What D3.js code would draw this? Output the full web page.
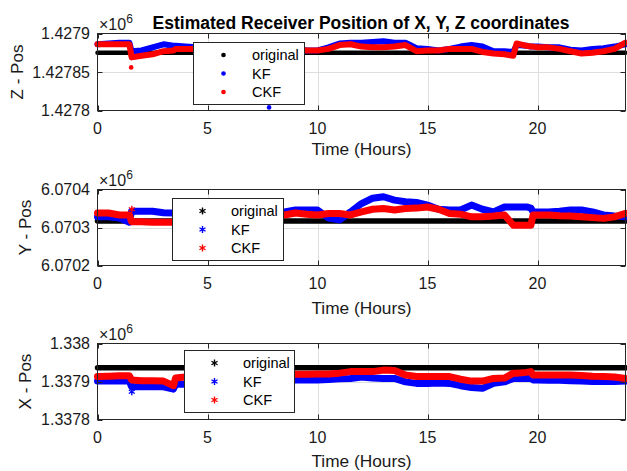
<!DOCTYPE html>
<html>
<head>
<meta charset="utf-8">
<script src="https://cdn.jsdelivr.net/npm/d3@7"></script>
<style>
  body { margin: 0; background: #fff; }
  svg { font-family: "Liberation Sans", Arial, Helvetica, sans-serif; }
</style>
</head>
<body>
<div id="chart"></div>
<script>
// sample times (hours) shared by the KF / CKF estimates
const hours = [0, 0.5, 1, 1.45, 1.55, 2, 2.5, 3, 3.45, 3.55, 4, 4.5, 5, 5.5, 6, 6.5, 7, 7.5, 8, 8.5,
  9, 9.5, 10, 10.5, 11, 11.5, 12, 12.5, 13, 13.5, 14, 14.5, 15, 15.5, 16, 16.5, 17, 17.5, 18, 18.5,
  18.9, 19.05, 19.5, 19.7, 19.8, 20, 20.5, 21, 21.5, 22, 22.5, 23, 23.5, 24];
// the original (true) position is fixed over the day
const originalHours = [0, 24];

// Z coordinate
const zOriginal = [1427875, 1427875];
const zKF = [1427886, 1427887, 1427888, 1427888, 1427877, 1427878, 1427882, 1427886, 1427884, 1427884,
  1427883, 1427882, 1427882, 1427882, 1427882, 1427882, 1427882, 1427882, 1427881, 1427880,
  1427880, 1427878, 1427878, 1427882, 1427887, 1427888, 1427888, 1427889, 1427890, 1427888,
  1427888, 1427881, 1427880, 1427878, 1427880, 1427883, 1427885, 1427883, 1427877, 1427877,
  1427876, 1427885, 1427884, 1427883, 1427883, 1427883, 1427882, 1427882, 1427879, 1427878,
  1427880, 1427881, 1427883, 1427886];
const zCKF = [1427886, 1427886, 1427886, 1427886, 1427869, 1427871, 1427873, 1427877, 1427878, 1427880,
  1427880, 1427880, 1427880, 1427880, 1427880, 1427880, 1427880, 1427880, 1427880, 1427880,
  1427880, 1427878, 1427878, 1427880, 1427885, 1427886, 1427883, 1427882, 1427882, 1427883,
  1427885, 1427877, 1427878, 1427878, 1427880, 1427880, 1427880, 1427876, 1427874, 1427873,
  1427871, 1427887, 1427884, 1427883, 1427883, 1427882, 1427882, 1427880, 1427877, 1427874,
  1427875, 1427877, 1427880, 1427888];
const zKFOutliers = [[7.8, 1427804]];
const zCKFOutliers = [[1.53, 1427856]];

// Y coordinate
const yOriginal = [6070317, 6070317];
const yKF = [6070328, 6070328, 6070325, 6070314, 6070343, 6070343, 6070343, 6070339, 6070338, 6070338,
  6070338, 6070339, 6070339, 6070340, 6070340, 6070340, 6070341, 6070341, 6070341, 6070341,
  6070346, 6070346, 6070346, 6070325, 6070320, 6070341, 6070363, 6070377, 6070381, 6070372,
  6070368, 6070366, 6070359, 6070348, 6070346, 6070346, 6070359, 6070348, 6070341, 6070354,
  6070354, 6070354, 6070354, 6070351, 6070341, 6070341, 6070341, 6070343, 6070346, 6070346,
  6070341, 6070333, 6070330, 6070328];
const yCKF = [6070338, 6070338, 6070333, 6070333, 6070315, 6070315, 6070314, 6070314, 6070314, 6070317,
  6070320, 6070322, 6070322, 6070325, 6070325, 6070328, 6070328, 6070330, 6070330, 6070333,
  6070338, 6070335, 6070333, 6070337, 6070337, 6070333, 6070341, 6070348, 6070350, 6070346,
  6070350, 6070351, 6070354, 6070348, 6070337, 6070335, 6070328, 6070328, 6070330, 6070333,
  6070306, 6070306, 6070306, 6070306, 6070333, 6070333, 6070333, 6070331, 6070330, 6070328,
  6070326, 6070324, 6070328, 6070337];
const yKFOutliers = [];
const yCKFOutliers = [[1.56, 6070348]];

// X coordinate
const xOriginal = [1337936, 1337936];
const xKF = [1337901, 1337901, 1337902, 1337901, 1337886, 1337886, 1337886, 1337886, 1337880, 1337893,
  1337893, 1337893, 1337894, 1337895, 1337896, 1337897, 1337898, 1337899, 1337900, 1337901,
  1337904, 1337904, 1337904, 1337905, 1337907, 1337908, 1337912, 1337909, 1337908, 1337908,
  1337899, 1337895, 1337895, 1337896, 1337895, 1337889, 1337884, 1337882, 1337895, 1337899,
  1337908, 1337908, 1337908, 1337908, 1337904, 1337904, 1337903, 1337903, 1337902, 1337901,
  1337900, 1337900, 1337900, 1337901];
const xCKF = [1337913, 1337914, 1337915, 1337915, 1337904, 1337902, 1337902, 1337901, 1337889, 1337909,
  1337912, 1337913, 1337913, 1337914, 1337914, 1337915, 1337915, 1337916, 1337917, 1337918,
  1337919, 1337919, 1337920, 1337920, 1337922, 1337926, 1337926, 1337926, 1337930, 1337929,
  1337917, 1337913, 1337913, 1337913, 1337913, 1337906, 1337901, 1337901, 1337908, 1337909,
  1337922, 1337922, 1337924, 1337926, 1337917, 1337917, 1337917, 1337917, 1337917, 1337916,
  1337914, 1337913, 1337912, 1337908];
const xKFOutliers = [[1.56, 1337873]];
const xCKFOutliers = [];

// axes ticks
const xTicks = [0, 5, 10, 15, 20];
const zTicks = [1427800, 1427850, 1427900];
const zTickLabels = ["1.4278", "1.42785", "1.4279"];
const yTicks = [6070200, 6070300, 6070400];
const yTickLabels = ["6.0702", "6.0703", "6.0704"];
const xPosTicks = [1337800, 1337900, 1338000];
const xPosTickLabels = ["1.3378", "1.3379", "1.338"];

const seriesNames = ["original", "KF", "CKF"];
const seriesColors = ["#000000", "#0000ff", "#ff0000"];
const titleText = "Estimated Receiver Position of X, Y, Z coordinates";
const xLabelText = "Time (Hours)";

const W = 627, H = 471;
const svg = d3.select("#chart").append("svg").attr("width", W).attr("height", H);
const axisColor = "#262626";

const xScale = d3.scaleLinear().domain([0, 24]).range([97.5, 625.5]);

const panels = [
  { top: 33.5, bottom: 110.5, domain: [1427800, 1427900], ticks: zTicks, labels: zTickLabels,
    ylabel: "Z - Pos", ylabelX: 17, xlabelY: 155, marker: "dot",
    data: [zOriginal, zKF, zCKF], outliers: [[], zKFOutliers, zCKFOutliers],
    legend: { x: 193.5, y: 42.5, w: 111, h: 62 } },
  { top: 189.5, bottom: 265.5, domain: [6070200, 6070400], ticks: yTicks, labels: yTickLabels,
    ylabel: "Y - Pos", ylabelX: 25, xlabelY: 314, marker: "star",
    data: [yOriginal, yKF, yCKF], outliers: [[], yKFOutliers, yCKFOutliers],
    legend: { x: 172.5, y: 198.5, w: 111, h: 62 } },
  { top: 343.5, bottom: 419.5, domain: [1337800, 1338000], ticks: xPosTicks, labels: xPosTickLabels,
    ylabel: "X - Pos", ylabelX: 25, xlabelY: 467, marker: "star",
    data: [xOriginal, xKF, xCKF], outliers: [[], xKFOutliers, xCKFOutliers],
    legend: { x: 184.5, y: 350.5, w: 110, h: 62 } }
];

const star = d3.symbol().type(d3.symbolAsterisk).size(34);

function drawMarker(g, type, cx, cy, color) {
  if (type === "dot") {
    g.append("circle").attr("cx", cx).attr("cy", cy).attr("r", 2.3).attr("fill", color);
  } else {
    g.append("path").attr("d", star()).attr("transform", `translate(${cx},${cy})`)
      .attr("fill", "none").attr("stroke", color).attr("stroke-width", 1.4);
  }
}

panels.forEach(function(p) {
  const yScale = d3.scaleLinear().domain(p.domain).range([p.bottom, p.top]);
  const g = svg.append("g");
  const [xa, xb] = xScale.range();

  // gridlines
  g.selectAll(".vgrid").data(xTicks.slice(1)).enter().append("line")
    .attr("x1", d => Math.round(xScale(d)) + 0.5).attr("x2", d => Math.round(xScale(d)) + 0.5)
    .attr("y1", p.top).attr("y2", p.bottom)
    .attr("stroke", "#dedede").attr("stroke-width", 1);
  g.selectAll(".hgrid").data(p.ticks.slice(1, -1)).enter().append("line")
    .attr("x1", xa).attr("x2", xb)
    .attr("y1", d => Math.round(yScale(d)) + 0.5).attr("y2", d => Math.round(yScale(d)) + 0.5)
    .attr("stroke", "#dedede").attr("stroke-width", 1);

  // data bands
  const line = d3.line().x(d => xScale(d[0])).y(d => yScale(d[1]));
  p.data.forEach(function(vals, k) {
    const t = k === 0 ? originalHours : hours;
    const pts = vals.map((v, i) => [t[i], v]);
    let w;
    if (k === 0) w = p.marker === "dot" ? 4.5 : 5.5;
    else w = p.marker === "dot" ? 6 : 7;
    g.append("path").attr("d", line(pts))
      .attr("fill", "none").attr("stroke", seriesColors[k])
      .attr("stroke-width", w).attr("stroke-linejoin", "round").attr("stroke-linecap", "round");
    p.outliers[k].forEach(function(o) {
      drawMarker(g, p.marker, xScale(o[0]), yScale(o[1]), seriesColors[k]);
    });
  });

  // box
  g.append("rect").attr("x", xa).attr("y", p.top).attr("width", xb - xa).attr("height", p.bottom - p.top)
    .attr("fill", "none").attr("stroke", axisColor).attr("stroke-width", 1);

  // ticks (inward, mirrored)
  const tl = 5;
  xTicks.forEach(function(t) {
    const x = Math.round(xScale(t)) + 0.5;
    g.append("line").attr("x1", x).attr("x2", x).attr("y1", p.bottom).attr("y2", p.bottom - tl).attr("stroke", axisColor);
    g.append("line").attr("x1", x).attr("x2", x).attr("y1", p.top).attr("y2", p.top + tl).attr("stroke", axisColor);
    g.append("text").attr("x", xScale(t)).attr("y", p.bottom + 23)
      .attr("text-anchor", "middle").attr("font-size", 16).attr("fill", "#1a1a1a").text(t);
  });
  p.ticks.forEach(function(t, i) {
    const y = Math.round(yScale(t)) + 0.5;
    g.append("line").attr("x1", xa).attr("x2", xa + tl).attr("y1", y).attr("y2", y).attr("stroke", axisColor);
    g.append("line").attr("x1", xb).attr("x2", xb - tl).attr("y1", y).attr("y2", y).attr("stroke", axisColor);
    g.append("text").attr("x", 90).attr("y", yScale(t)).attr("dy", "0.36em")
      .attr("text-anchor", "end").attr("font-size", 16).attr("fill", "#1a1a1a").text(p.labels[i]);
  });

  // exponent
  const ex = g.append("text").attr("x", 99).attr("y", p.top - 3.5).attr("font-size", 16).attr("fill", "#1a1a1a");
  ex.append("tspan").text("\u00d710");
  ex.append("tspan").attr("dy", -7).attr("font-size", 12).text("6");

  // axis labels
  g.append("text").attr("x", (xa + xb) / 2).attr("y", p.xlabelY)
    .attr("text-anchor", "middle").attr("font-size", 17.3).attr("fill", "#1a1a1a").text(xLabelText);
  g.append("text").attr("transform", `translate(${p.ylabelX},${(p.top + p.bottom) / 2}) rotate(-90)`)
    .attr("dy", "0.36em").attr("text-anchor", "middle").attr("font-size", 17).attr("fill", "#1a1a1a")
    .text(p.ylabel);

  // legend
  const L = p.legend;
  const lg = svg.append("g");
  lg.append("rect").attr("x", L.x).attr("y", L.y).attr("width", L.w).attr("height", L.h)
    .attr("fill", "#fff").attr("stroke", axisColor).attr("stroke-width", 1);
  seriesNames.forEach(function(name, k) {
    const cy = L.y + 12.5 + k * 18.5;
    drawMarker(lg, p.marker, L.x + 30, cy, seriesColors[k]);
    lg.append("text").attr("x", L.x + 58.5).attr("y", cy).attr("dy", "0.36em")
      .attr("font-size", 14.5).attr("fill", "#000").text(name);
  });
});

// title
svg.append("text").attr("x", 361).attr("y", 29).attr("text-anchor", "middle")
  .attr("font-size", 17.5).attr("font-weight", "bold").attr("fill", "#000").text(titleText);
</script>
</body>
</html>
